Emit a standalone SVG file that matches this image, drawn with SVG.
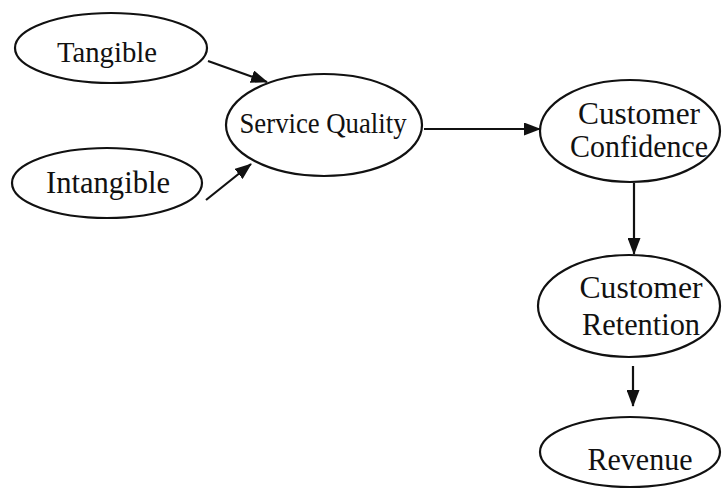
<svg xmlns="http://www.w3.org/2000/svg" width="722" height="489" viewBox="0 0 722 489">
  <style>
    .node ellipse { fill: #ffffff; stroke: #111111; stroke-width: 2.2; }
    .node text { font-family: "Liberation Serif", "DejaVu Serif", serif; fill: #111111; text-anchor: middle; }
    .edge { fill: none; stroke: #111111; stroke-width: 2.2; marker-end: url(#arrow); }
  </style>
  <defs>
    <marker id="arrow" markerUnits="userSpaceOnUse" markerWidth="17" markerHeight="13" refX="16" refY="6.5" orient="auto">
      <path d="M0,0 L17,6.5 L0,13 Z" fill="#111111"/>
    </marker>
  </defs>
  <rect width="722" height="489" fill="#ffffff"/>

  <g id="connectors">
    <line class="edge" x1="208" y1="61" x2="267" y2="82"/>
    <line class="edge" x1="206" y1="200" x2="251" y2="164"/>
    <line class="edge" x1="424" y1="129" x2="540" y2="129"/>
    <line class="edge" x1="634" y1="183" x2="634" y2="254"/>
    <line class="edge" x1="633" y1="366" x2="633" y2="406"/>
  </g>

  <g id="tangible" class="node">
    <ellipse cx="111" cy="48" rx="96" ry="35"/>
    <text x="107" y="62" font-size="30" textLength="100" lengthAdjust="spacingAndGlyphs">Tangible</text>
  </g>
  <g id="intangible" class="node">
    <ellipse cx="107" cy="183" rx="95" ry="35"/>
    <text x="108" y="193" font-size="31" textLength="124" lengthAdjust="spacingAndGlyphs">Intangible</text>
  </g>
  <g id="service-quality" class="node">
    <ellipse cx="324" cy="125" rx="98" ry="51"/>
    <text x="323" y="133" font-size="29" textLength="167" lengthAdjust="spacingAndGlyphs">Service Quality</text>
  </g>
  <g id="customer-confidence" class="node">
    <ellipse cx="630" cy="131" rx="90" ry="51"/>
    <text x="639" y="124" font-size="32" textLength="122" lengthAdjust="spacingAndGlyphs">Customer</text>
    <text x="639" y="157" font-size="32" textLength="138" lengthAdjust="spacingAndGlyphs">Confidence</text>
  </g>
  <g id="customer-retention" class="node">
    <ellipse cx="629" cy="306" rx="91" ry="51"/>
    <text x="641" y="298" font-size="32" textLength="123" lengthAdjust="spacingAndGlyphs">Customer</text>
    <text x="641" y="335" font-size="32" textLength="118" lengthAdjust="spacingAndGlyphs">Retention</text>
  </g>
  <g id="revenue" class="node">
    <ellipse cx="630" cy="452" rx="90" ry="35"/>
    <text x="640" y="470" font-size="32" textLength="105" lengthAdjust="spacingAndGlyphs">Revenue</text>
  </g>
</svg>
